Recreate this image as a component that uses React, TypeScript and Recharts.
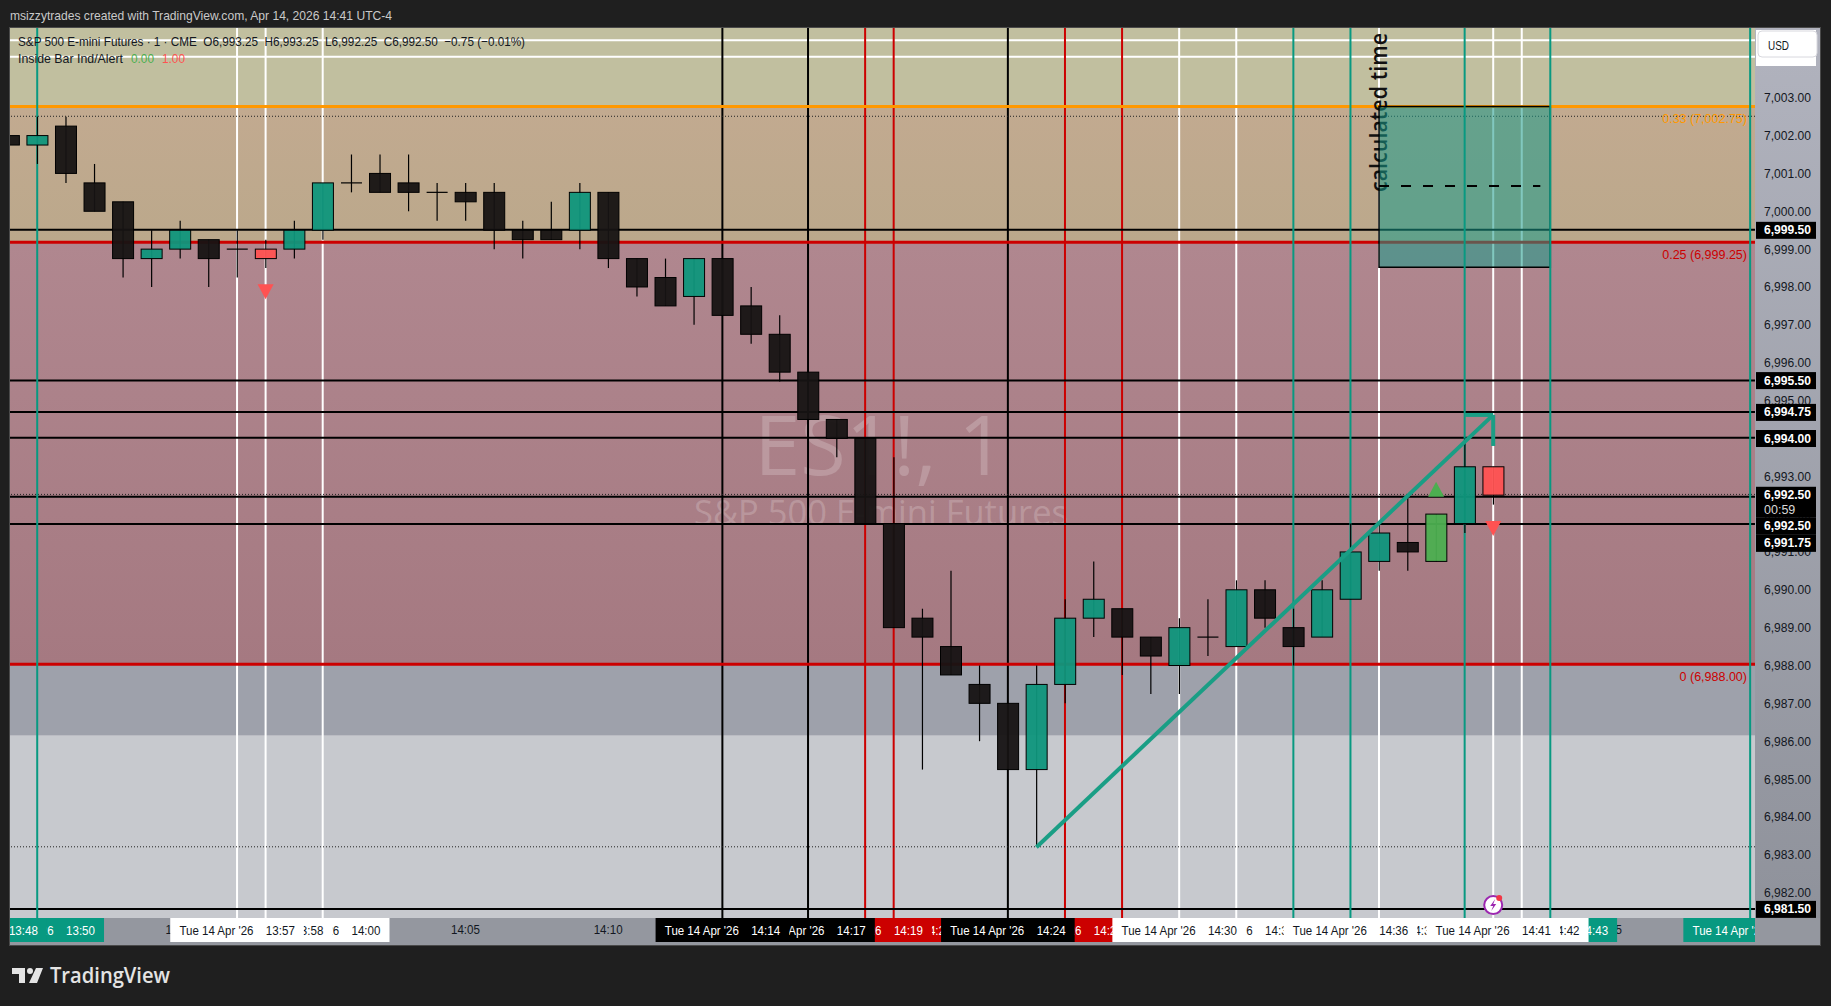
import { Bar, ComposedChart, ReferenceArea, ReferenceDot, ReferenceLine, Scatter, XAxis, YAxis } from "recharts";

const opens = [7002, 7001.75, 7002.25, 7000.75, 7000.25, 6998.75, 6999, 6999.25, 6999, 6999, 6999, 6999.5, 7000.75, 7001, 7000.75, 7000.5, 7000.5, 7000.5, 6999.5, 6999.5, 6999.5, 7000.5, 6998.75, 6998.25, 6997.75, 6998.75, 6997.5, 6996.75, 6995.75, 6994.5, 6994, 6991.75, 6989.25, 6988.5, 6987.5, 6987, 6985.25, 6987.5, 6989.25, 6989.5, 6988.75, 6988, 6988.75, 6988.5, 6990, 6989, 6988.75, 6989.75, 6990.75, 6991.25, 6990.75, 6991.75, 6993.25];
const highs = [7002, 7002.5, 7002.5, 7001.25, 7000.25, 6999.5, 6999.75, 6999.25, 6999.5, 6999.25, 6999.75, 7000.75, 7001.5, 7001.5, 7001.5, 7000.75, 7000.75, 7000.75, 6999.75, 7000.25, 7000.75, 7000.5, 6998.75, 6998.75, 6998.75, 6998.75, 6998, 6997.25, 6995.75, 6994.5, 6994, 6993.5, 6989.5, 6990.5, 6988, 6987, 6988, 6989.75, 6990.75, 6989.5, 6988.75, 6989.25, 6989.75, 6990.25, 6990.25, 6989.5, 6990.25, 6991.75, 6991.75, 6992.5, 6992, 6994, 6993.25];
const lows = [7001.75, 7001.25, 7000.75, 7000, 6998.25, 6998, 6998.75, 6998, 6998.25, 6998.5, 6998.75, 6999.25, 7000.5, 7000.5, 7000, 6999.75, 6999.75, 6999, 6998.75, 6999.25, 6999, 6998.5, 6997.75, 6997.5, 6997, 6997.25, 6996.5, 6995.5, 6994.5, 6993.5, 6991.75, 6989, 6985.25, 6987.75, 6986, 6985.25, 6983.25, 6987, 6988.75, 6987.75, 6987.25, 6987.25, 6988.25, 6988.5, 6989, 6988, 6988.75, 6989.75, 6990.5, 6990.5, 6990.75, 6991.5, 6992.25];
const closes = [7001.75, 7002, 7001, 7000, 6998.75, 6999, 6999.5, 6998.75, 6999, 6998.75, 6999.5, 7000.75, 7000.75, 7000.5, 7000.5, 7000.5, 7000.25, 6999.5, 6999.25, 6999.25, 7000.5, 6998.75, 6998, 6997.5, 6998.75, 6997.25, 6996.75, 6995.75, 6994.5, 6994, 6991.75, 6989, 6988.75, 6987.75, 6987, 6985.25, 6987.5, 6989.25, 6989.75, 6988.75, 6988.25, 6989, 6988.75, 6990, 6989.25, 6988.5, 6990, 6991, 6991.5, 6991, 6992, 6993.25, 6992.5];
const redCandles = [9, 52];
const greenCandles = [50];

const tealLines = [1, 45, 47, 51, 54, 61];
const whiteLines = [8, 9, 11, 41, 43, 48, 52, 53];
const blackLines = [25, 28, 35];
const redLines = [30, 31, 37, 39];

const blackLevels = [6999.51, 6995.53, 6994.7, 6994.02, 6992.46, 6991.74, 6981.57];
const whiteLevels = [7004.52, 7004.08];
const dottedLevels = [7002.51, 6992.52, 6983.21];

const priceTicks = [7003, 7002, 7001, 7000, 6999, 6998, 6997, 6996, 6995, 6993, 6992, 6991, 6990, 6989, 6988, 6987, 6986, 6985, 6984, 6983, 6982];
const tagValues = [6999.51, 6995.54, 6994.7, 6994.01, 6992.51, 6991.69, 6991.24, 6981.57];
const tagTexts = ["6,999.50", "6,995.50", "6,994.75", "6,994.00", "6,992.50", "6,992.50", "6,991.75", "6,981.50"];

// drawn in this order, later ones cover earlier ones
const plainTimes = [6, 16, 21, 56];
const plainLabels = ["13:55", "14:05", "14:10", "14:45"];
const boxedTimes = [61, 54, 1, -1, 37, 31, 30, 35, 28, 25, 11, 9, 8, 53, 48, 52, 43, 47, 41];
const boxedLabels = ["14:50", "14:43", "13:50", "13:48", "14:26", "14:20", "14:19", "14:24", "14:17", "14:14", "14:00", "13:58", "13:57", "14:42", "14:37", "14:41", "14:32", "14:36", "14:30"];
const boxedTones = ["teal", "teal", "teal", "teal", "red", "red", "red", "black", "black", "black", "white", "white", "white", "white", "white", "white", "white", "white", "white"];

const markers = [
  { i: 9, v: 6997.89, up: false },
  { i: 52, v: 6991.63, up: false },
  { i: 50, v: 6992.64, up: true },
];

const rows = opens.map((open, i) => ({ i, open, high: highs[i], low: lows[i], close: closes[i] }));

const SANS = "'Liberation Sans', sans-serif";
const TEAL = "#089981";
const BODY_TEAL = "#0f967c";
const RED = "#cc0000";
const TONES: Record<string, { bg: string; fg: string }> = {
  teal: { bg: "#089981", fg: "#ffffff" },
  red: { bg: "#cc0000", fg: "#ffffff" },
  black: { bg: "#000000", fg: "#ffffff" },
  white: { bg: "#ffffff", fg: "#131722" },
};

function Candle(props: any) {
  const { x, y, width, height, payload } = props;
  const top = Math.min(y, y + height);
  const perPoint = Math.abs(height) / (payload.high - payload.low);
  const yOf = (v: number) => top + (payload.high - v) * perPoint;
  const cx = x + width / 2;
  const up = payload.close >= payload.open;
  const bodyTop = yOf(Math.max(payload.open, payload.close));
  const bodyBottom = yOf(Math.min(payload.open, payload.close));
  let fill = up ? BODY_TEAL : "#161313";
  if (redCandles.includes(payload.i)) fill = "#ff5252";
  if (greenCandles.includes(payload.i)) fill = "#4caf50";
  return (
    <g>
      <line x1={cx} x2={cx} y1={top} y2={top + Math.abs(height)} stroke="#000" strokeWidth={1.2} />
      {payload.open === payload.close ? (
        <line x1={x} x2={x + width} y1={bodyTop} y2={bodyTop} stroke="#000" strokeWidth={1.2} />
      ) : (
        <rect x={x} y={bodyTop} width={width} height={bodyBottom - bodyTop} fill={fill} fillOpacity={0.95} stroke="#000" strokeWidth={1} />
      )}
    </g>
  );
}

function Marker(props: any) {
  const { cx, cy, payload } = props;
  const dir = payload.up ? -1 : 1;
  const color = payload.up ? "#4caf50" : "#ff5252";
  return <path d={`M${cx - 8} ${cy - 7 * dir} L${cx + 8} ${cy - 7 * dir} L${cx} ${cy + 8 * dir} Z`} fill={color} />;
}

function TimeTick(props: any) {
  const { x, y, payload } = props;
  const plain = plainTimes.indexOf(payload.value);
  if (plain >= 0) {
    return (
      <text x={x} y={y + 16} textAnchor="middle" fontFamily={SANS} fontSize={13} textLength={29} lengthAdjust="spacingAndGlyphs" fill="#131722" clipPath="url(#timeClip)">
        {plainLabels[plain]}
      </text>
    );
  }
  const at = boxedTimes.indexOf(payload.value);
  const tone = TONES[boxedTones[at]];
  return (
    <g clipPath="url(#timeClip)">
      <rect x={x - 66.8} y={y} width={133.6} height={24} fill={tone.bg} />
      <text x={x - 57.6} y={y + 17} fontFamily={SANS} fontSize={13} textLength={74} lengthAdjust="spacingAndGlyphs" fill={tone.fg}>
        Tue 14 Apr '26
      </text>
      <text x={x + 28.8} y={y + 17} fontFamily={SANS} fontSize={13} textLength={29} lengthAdjust="spacingAndGlyphs" fill={tone.fg}>
        {boxedLabels[at]}
      </text>
    </g>
  );
}

function PriceTick(props: any) {
  const { x, y, payload } = props;
  const at = tagValues.indexOf(payload.value);
  if (at < 0) {
    return (
      <text x={x + 9} y={y + 4.5} fontFamily={SANS} fontSize={13} textLength={47} lengthAdjust="spacingAndGlyphs" fill="#131722">
        {payload.value.toLocaleString("en-US", { minimumFractionDigits: 2 })}
      </text>
    );
  }
  const withClock = payload.value === 6992.51;
  return (
    <g>
      <rect x={x + 1} y={y - 8} width={60} height={withClock ? 31 : 17} fill="#000" />
      <text x={x + 9} y={y + 4.5} fontFamily={SANS} fontSize={13} fontWeight={700} textLength={47} lengthAdjust="spacingAndGlyphs" fill="#fff">
        {tagTexts[at]}
      </text>
      {withClock && (
        <text x={x + 9} y={y + 19} fontFamily={SANS} fontSize={12.5} fill="#d8d8d8">
          00:59
        </text>
      )}
    </g>
  );
}

function BoltIcon(props: any) {
  const { cx, cy } = props;
  return (
    <g>
      <circle cx={cx} cy={cy} r={9} fill="#fff" stroke="#9c27b0" strokeWidth={2} />
      <path d={`M${cx + 2} ${cy - 6} L${cx - 3} ${cy + 1} L${cx} ${cy + 1} L${cx - 2} ${cy + 6} L${cx + 3} ${cy - 1} L${cx} ${cy - 1} Z`} fill="#9c27b0" />
      <circle cx={cx + 6} cy={cy - 7} r={3} fill="#f23645" />
    </g>
  );
}

const zoneLabel = (value: string, fill: string) => ({
  value,
  position: "insideTopRight" as const,
  offset: 8,
  fill,
  fontSize: 12.5,
  fontFamily: SANS,
});

const Watermark = () => (
  <g fontFamily="'Open Sans', sans-serif" fill="#ffffff" fillOpacity={0.2} textAnchor="middle">
    <text x={880} y={475} fontSize={83}>ES1!, 1</text>
    <text x={881} y={525} fontSize={34.5}>S&amp;P 500 E-mini Futures</text>
  </g>
);

const SideNote = () => (
  <text
    transform="rotate(-90 1387 192)"
    x={1387}
    y={192}
    fontFamily="'Open Sans', sans-serif"
    fontSize={23}
    fontWeight={600}
    textLength={159}
    lengthAdjust="spacingAndGlyphs"
    fill="#111"
  >
    calculated time
  </text>
);

const ChartLegend = () => (
  <g fontFamily={SANS} fontSize={13}>
    <text x={18} y={46} fill="#131722" textLength={507} lengthAdjust="spacingAndGlyphs" style={{ whiteSpace: "pre" }}>
      {"S&P 500 E-mini Futures · 1 · CME  O6,993.25  H6,993.25  L6,992.25  C6,992.50  −0.75 (−0.01%)"}
    </text>
    <text x={18} y={63} fill="#131722" textLength={105} lengthAdjust="spacingAndGlyphs">Inside Bar Ind/Alert</text>
    <text x={131} y={63} fill="#4caf50" textLength={23} lengthAdjust="spacingAndGlyphs">0.00</text>
    <text x={162} y={63} fill="#ff5252" textLength={23} lengthAdjust="spacingAndGlyphs">1.00</text>
  </g>
);

export default function App() {
  document.body.style.margin = "0";
  return (
    <div style={{ position: "absolute", left: 0, top: 0, width: 1831, height: 1006, background: "#1f1f1f", overflow: "hidden" }}>
      <ComposedChart
        width={1831}
        height={1006}
        data={rows}
        margin={{ top: 28, right: 11, bottom: 61, left: 10 }}
      >
        <defs>
          <clipPath id="timeClip">
            <rect x={10} y={918} width={1745} height={27} />
          </clipPath>
          <linearGradient id="tanZone" x1="0" y1="0" x2="0" y2="1">
            <stop offset="0" stopColor="#c2aa90" />
            <stop offset="1" stopColor="#bba88b" />
          </linearGradient>
          <linearGradient id="roseZone" x1="0" y1="0" x2="0" y2="1">
            <stop offset="0" stopColor="#b0878f" />
            <stop offset="1" stopColor="#a57981" />
          </linearGradient>
          <linearGradient id="priceStrip" x1="0" y1="0" x2="0" y2="1">
            <stop offset="0" stopColor="#b1b3be" />
            <stop offset="1" stopColor="#8f929b" />
          </linearGradient>
        </defs>

        <rect x={9.5} y={27.5} width={1811} height={918} fill="#94979f" stroke="#4a4a4a" />
        <rect x={1755} y={28} width={65} height={890} fill="url(#priceStrip)" />

        <XAxis
          dataKey="i"
          type="number"
          domain={[0.047, 61.17]}
          allowDataOverflow
          ticks={[...plainTimes, ...boxedTimes]}
          interval={0}
          height={27}
          tick={<TimeTick />}
          tickLine={false}
          axisLine={false}
          tickSize={0}
          tickMargin={0}
        />
        <YAxis
          orientation="right"
          type="number"
          domain={[6981.329, 7004.842]}
          allowDataOverflow
          ticks={[...priceTicks, ...tagValues]}
          interval={0}
          width={65}
          tick={<PriceTick />}
          tickLine={false}
          axisLine={false}
          tickSize={0}
          tickMargin={0}
        />

        <ReferenceArea y1={7002.77} y2={7004.842} fill="#c1bf9f" fillOpacity={1} stroke="none" />
        <ReferenceArea y1={6999.18} y2={7002.77} fill="url(#tanZone)" fillOpacity={1} stroke="none" />
        <ReferenceArea y1={6988.03} y2={6999.18} fill="url(#roseZone)" fillOpacity={1} stroke="none" />
        <ReferenceArea y1={6986.16} y2={6988.03} fill="#9ea1ab" fillOpacity={1} stroke="none" />
        <ReferenceArea y1={6981.329} y2={6986.16} fill="#c7c9ce" fillOpacity={1} stroke="none" />

        <ReferenceArea y1={6990} y2={6995} zIndex={150} shape={() => <Watermark />} />

        {whiteLevels.map((v) => <ReferenceLine key={v} y={v} stroke="#fff" strokeWidth={2} zIndex={200} />)}
        {whiteLines.map((i) => <ReferenceLine key={i} x={i} stroke="#fff" strokeWidth={2} zIndex={200} />)}
        {blackLines.map((i) => <ReferenceLine key={i} x={i} stroke="#000" strokeWidth={2} zIndex={200} />)}
        {redLines.map((i) => <ReferenceLine key={i} x={i} stroke={RED} strokeWidth={2} zIndex={200} />)}
        {blackLevels.map((v) => <ReferenceLine key={v} y={v} stroke="#000" strokeWidth={2} zIndex={200} />)}
        {dottedLevels.map((v) => <ReferenceLine key={v} y={v} stroke="#222" strokeWidth={1} strokeDasharray="1 2" zIndex={200} />)}

        <ReferenceLine y={7002.77} stroke="#ff9800" strokeWidth={3} zIndex={200} label={zoneLabel("0.33 (7,002.75)", "#ff9800")} />
        <ReferenceLine y={6999.18} stroke={RED} strokeWidth={3} zIndex={200} label={zoneLabel("0.25 (6,999.25)", RED)} />
        <ReferenceLine y={6988.03} stroke={RED} strokeWidth={3} zIndex={200} label={zoneLabel("0 (6,988.00)", RED)} />

        <ReferenceArea y1={7000} y2={7004} zIndex={205} shape={() => <SideNote />} />
        <ReferenceArea x1={48} x2={54} y1={6998.52} y2={7002.77} zIndex={210} fill="#1a9b8a" fillOpacity={0.55} stroke="#000" strokeWidth={1.5} />
        <ReferenceLine segment={[{ x: 48, y: 7000.67 }, { x: 53.65, y: 7000.67 }]} stroke="#000" strokeWidth={2} strokeDasharray="10 12" zIndex={215} />
        {tealLines.map((i) => <ReferenceLine key={i} x={i} stroke={TEAL} strokeWidth={2} zIndex={220} />)}

        <Bar dataKey={(d: any) => [d.low, d.high]} barSize={21} isAnimationActive={false} shape={(p: any) => <Candle {...p} />} />
        <Scatter data={markers} dataKey="v" isAnimationActive={false} shape={(p: any) => <Marker {...p} />} />

        <ReferenceLine segment={[{ x: 36, y: 6983.2 }, { x: 52, y: 6994.62 }]} stroke="#1a9e85" strokeWidth={4} zIndex={700} />
        <ReferenceLine segment={[{ x: 51, y: 6994.62 }, { x: 52, y: 6994.62 }]} stroke="#1a9e85" strokeWidth={4} zIndex={700} />
        <ReferenceLine segment={[{ x: 52, y: 6994.62 }, { x: 52, y: 6993.8 }]} stroke="#1a9e85" strokeWidth={4} zIndex={700} />

        <ReferenceDot x={52} y={6981.67} r={9} zIndex={710} shape={(p: any) => <BoltIcon {...p} />} />
        <ReferenceArea y1={7003} y2={7004} zIndex={720} shape={() => <ChartLegend />} />

        <text x={10} y={20} fontFamily={SANS} fontSize={13} textLength={382} lengthAdjust="spacingAndGlyphs" fill="#c9c9c9">
          msizzytrades created with TradingView.com, Apr 14, 2026 14:41 UTC-4
        </text>

        <rect x={1756} y={30} width={60} height={36} fill="#fff" />
        <rect x={1758} y={31} width={59} height={26} rx={4} fill="#fff" stroke="#d8d8de" />
        <text x={1768} y={50} fontFamily={SANS} fontSize={12} textLength={21} lengthAdjust="spacingAndGlyphs" fill="#131722">USD</text>

        <path d="M12 968 H25 V983 H19 V974 H12 Z M36 968 H43 L37 983 H29 Z" fill="#e4e4e4" />
        <circle cx={30} cy={971} r={3} fill="#e4e4e4" />
        <text x={50} y={983} fontFamily="'Open Sans', sans-serif" fontSize={21} fontWeight={600} textLength={120} lengthAdjust="spacingAndGlyphs" fill="#e4e4e4">TradingView</text>
      </ComposedChart>
    </div>
  );
}
